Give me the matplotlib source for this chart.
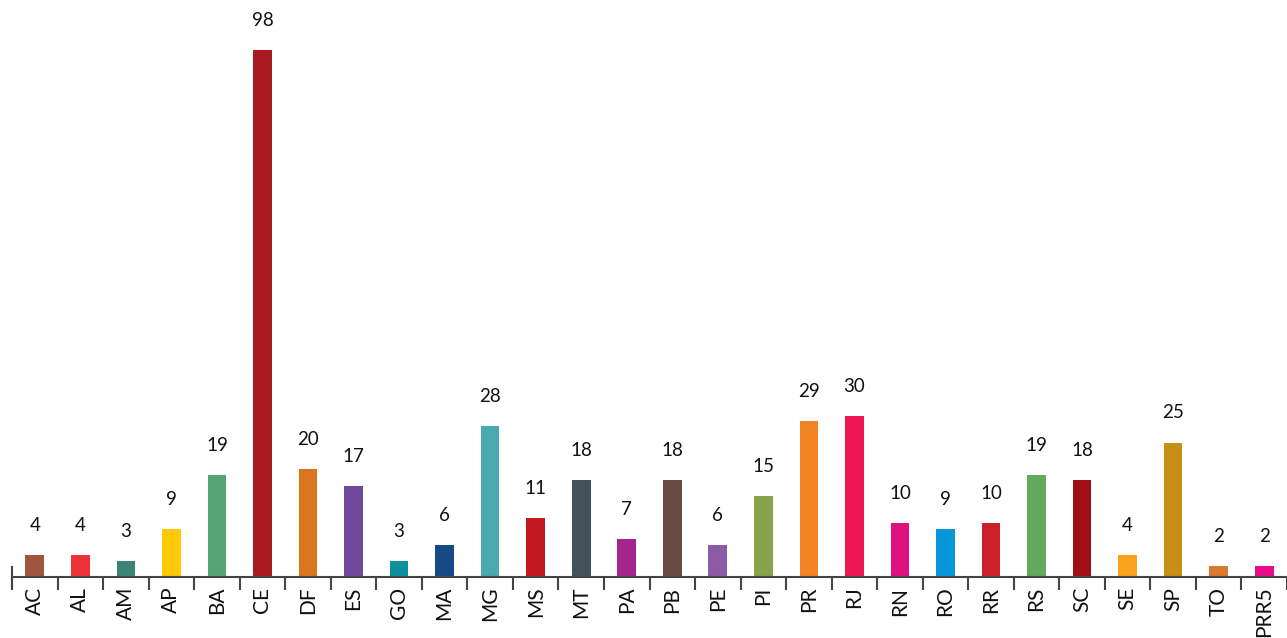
import matplotlib
matplotlib.use("Agg")
import matplotlib.pyplot as plt
import numpy as np

plt.rcParams['font.family'] = ['Lato', 'DejaVu Sans']

estados = ["AC", "AL", "AM", "AP", "BA", "CE", "DF", "ES", "GO", "MA", "MG", "MS",
           "MT", "PA", "PB", "PE", "PI", "PR", "RJ", "RN", "RO", "RR", "RS", "SC",
           "SE", "SP", "TO", "PRR5"]
valores = [4, 4, 3, 9, 19, 98, 20, 17, 3, 6, 28, 11, 18, 7, 18, 6, 15, 29, 30, 10,
           9, 10, 19, 18, 4, 25, 2, 2]
cores = ["#A0553F", "#EE3338", "#3A8474", "#FFC90A", "#55A476", "#A91B21", "#D97720",
         "#71479C", "#0C8F9E", "#154A85", "#4AA8AF", "#C2171F", "#43515B", "#A5258E",
         "#6A4A45", "#8B5BA6", "#87A34C", "#F28426", "#EC1652", "#E0117F", "#0696D9",
         "#CB1F2A", "#63AA5D", "#A10E16", "#F9A31C", "#C68F15", "#D97A2E", "#EC0A8C"]

W, H = 1287, 638
fig = plt.figure(figsize=(W / 100, H / 100), dpi=100)
base = 577
ax = fig.add_axes([12 / W, (H - base) / H, (W - 12) / W, base / H])

banda = 45.9
x = np.arange(len(estados))
ax.bar(x, valores, width=0.41, color=cores, zorder=2)

for xi, v in zip(x, valores):
    ax.annotate(str(v), (xi, v), xytext=(0, 21), textcoords='offset pixels',
                ha='center', va='bottom', fontsize=13.5, color='#111111')

ax.set_xlim(-0.5, -0.5 + (W - 12) / banda)
ax.set_ylim(0, base / 5.38)

for s in ['top', 'right', 'left']:
    ax.spines[s].set_visible(False)
ax.spines['bottom'].set_color('#444444')
ax.spines['bottom'].set_linewidth(1.5)
ax.set_yticks([])

# marcas nos limites das bandas, rótulos no centro
ax.set_xticks(np.arange(len(estados) + 1) - 0.5)
ax.set_xticklabels([])
ax.tick_params(axis='x', which='major', length=9, width=1.5, color='#444444')
ax.set_xticks(x, minor=True)
ax.set_xticklabels(estados, minor=True, rotation=90, fontsize=15, color='#111111')
ax.tick_params(axis='x', which='minor', length=0, pad=7)
ax.plot([-0.5, -0.5], [-11 / base, 10 / base], transform=ax.get_xaxis_transform(),
        color='#444444', lw=1.5, clip_on=False)

fig.savefig("out.png", dpi=100)
